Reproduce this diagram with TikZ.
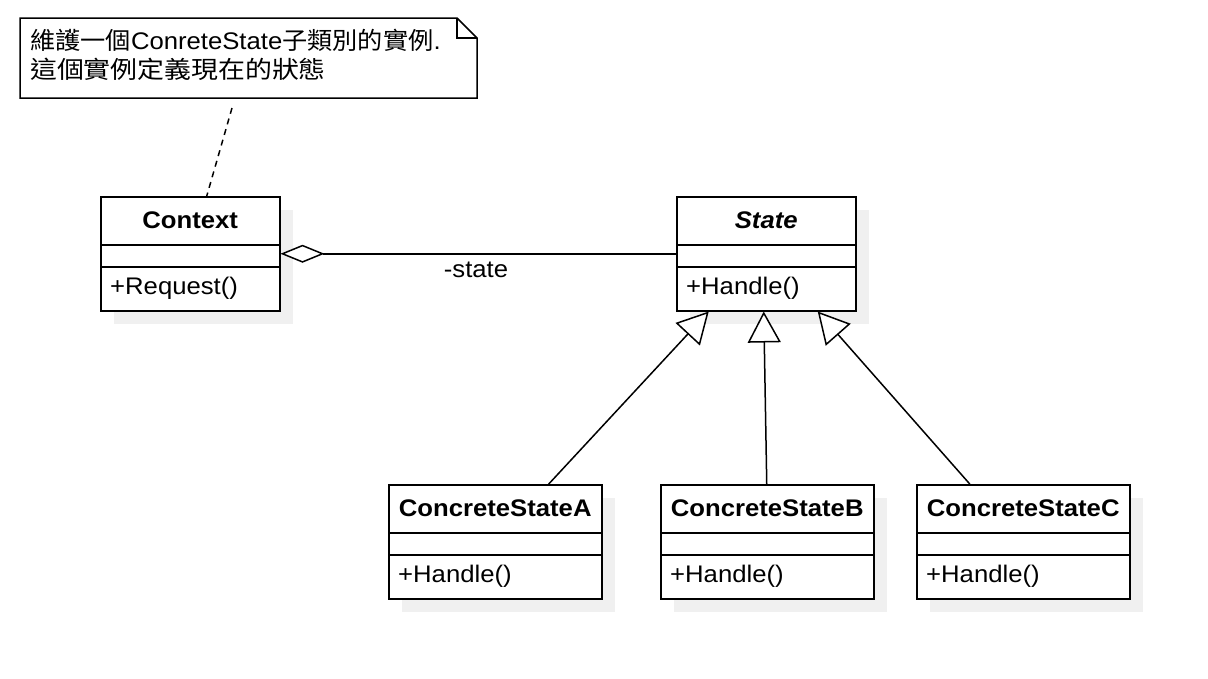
\documentclass[tikz,border=0pt]{standalone}
\usepackage{fontspec}
\setmainfont[FakeStretch=1.07]{Liberation Sans}
\newfontfamily\cjk[FakeStretch=1.05]{Noto Sans CJK TC}
\newfontfamily\cjkwide[FakeStretch=1.12]{Noto Sans CJK TC}
\usetikzlibrary{arrows.meta}
\definecolor{shadowgray}{RGB}{240,240,240}
\tikzset{
  boxline/.style={line width=1.5pt},
  classbox/.style={draw, line width=1.5pt, fill=white, inner sep=0pt, anchor=north west},
  shadowbox/.style={fill=shadowgray, draw=none},
  titletext/.style={font=\bfseries\fontsize{24}{28}\selectfont, inner sep=0pt},
  methodtext/.style={font=\fontsize{24}{28}\selectfont, anchor=west, inner sep=0pt},
  plaintext/.style={font=\fontsize{24}{28}\selectfont, inner sep=0pt},
  notetext/.style={font=\fontsize{24}{28}\selectfont, inner sep=0pt, anchor=base west},
  generalization/.style={line width=1.5pt, -{Triangle[open, length=31pt, width=33pt, fill=white]}},
  aggregation/.style={line width=1.5pt, {Diamond[open, length=44pt, width=18pt, fill=white]}-},
  noteline/.style={line width=1.5pt, dash pattern=on 6pt off 5pt},
}
\newcommand\umlclass[6]{%
  \fill[shadowbox] (#2+14,#3+14) rectangle ++(#4,114);
  \node[classbox, minimum width=#4, minimum height=114] (#1) at (#2,#3) {};
  \draw[boxline] ([yshift=-49pt]#1.north west) -- ([yshift=-49pt]#1.north east);
  \draw[boxline] ([yshift=-71pt]#1.north west) -- ([yshift=-71pt]#1.north east);
  \node[titletext] (#1-title) at ([yshift=-24pt]#1.north) {#5};
  \node[methodtext] (#1-method) at ([xshift=10pt,yshift=-92pt]#1.north west) {#6};
}
\begin{document}
\begin{tikzpicture}[x=1pt,y=-1pt]
\useasboundingbox[fill=white] (0,0) rectangle (1208,678);

% note
\draw[line width=1.5pt, fill=white] (20,18) -- (457,18) -- (477,38) -- (477,98) -- (20,98) -- cycle;
\draw[line width=1.5pt] (457,18) -- (457,38) -- (477,38);
\node[notetext] (note1) at (30,49) {{\cjk 維護一個}ConreteState{\cjk 子類別的實例}.};
\node[notetext] (note2) at (30,78) {\cjkwide 這個實例定義現在的狀態};
\coordinate (notetail) at (232,108);

\umlclass{ctx}{100}{196}{179}{Context}{+Request()}
\umlclass{st}{676}{196}{179}{\itshape State}{+Handle()}
\umlclass{ca}{388}{484}{213}{ConcreteStateA}{+Handle()}
\umlclass{cb}{660}{484}{213}{ConcreteStateB}{+Handle()}
\umlclass{cc}{916}{484}{213}{ConcreteStateC}{+Handle()}

\draw[noteline] (notetail) -- ([xshift=16.5pt]ctx.north);
\draw[aggregation] (ctx.east) -- (st.west);
\node[plaintext] (lbl) at (476,270) {-state};

\draw[generalization] ([xshift=53.5pt]ca.north) -- ([xshift=-57.5pt]st.south);
\draw[generalization] ([xshift=-0.5pt]cb.north) -- ([xshift=-2.5pt]st.south);
\draw[generalization] ([xshift=-53.5pt]cc.north) -- ([xshift=51.5pt]st.south);
\end{tikzpicture}
\end{document}
